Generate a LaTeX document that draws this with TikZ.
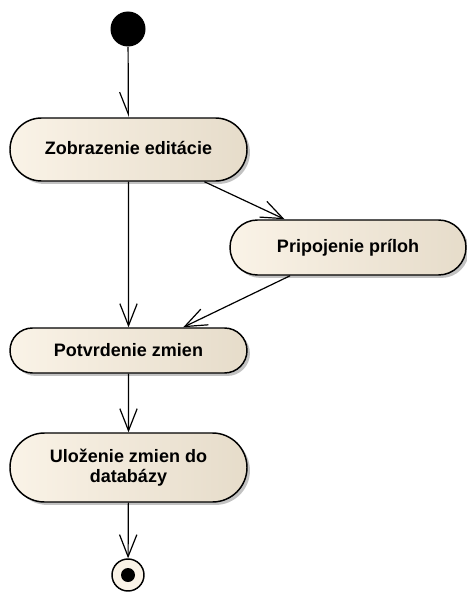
\documentclass[tikz,border=0pt]{standalone}
\usepackage{fontspec}
\setmainfont{Liberation Sans}
\usetikzlibrary{shapes.misc,arrows.meta,shadows}
\definecolor{actleft}{RGB}{250,243,231}
\definecolor{actright}{RGB}{230,220,202}
\definecolor{actborder}{RGB}{0,0,0}
\begin{document}
\begin{tikzpicture}[x=0.75pt,y=-0.75pt,
  activity/.style={rounded rectangle, draw=actborder, line width=1.1pt,
    left color=actleft, right color=actright,
    minimum width=237*0.75pt, align=center, inner sep=0pt,
    font=\fontsize{13.5}{15}\selectfont\bfseries,
    drop shadow={shadow xshift=2.2pt, shadow yshift=-2.2pt, opacity=0.4, fill=black!60}},
  flow/.style={line width=0.9pt, -{Straight Barb[length=16.5pt, width=13pt, line width=0.9pt]}},
  halfflow/.style={line width=0.9pt, -{Straight Barb[harpoon, swap, length=16.5pt, width=13pt, line width=0.9pt]}}
]
\useasboundingbox (0,0) rectangle (467,592);

% initial and final states
\node[circle, fill=black, minimum size=35*0.75pt, inner sep=0pt] (start) at (128,29) {};
\node[circle, draw, line width=1.1pt, fill=actleft, minimum size=32*0.75pt, inner sep=0pt] (final) at (128,575) {};
\node[circle, fill=black, minimum size=14*0.75pt, inner sep=0pt] (finaldot) at (final.center) {};

% activities
\node[activity, minimum height=63*0.75pt] (zobraz) at (128.5,149.5) {\raisebox{3pt}{Zobrazenie editácie}};
\node[activity, minimum height=55*0.75pt, minimum width=236*0.75pt] (prilohy) at (348,247.5) {Pripojenie príloh};
\node[activity, minimum height=45*0.75pt] (potvrd) at (128.5,350.5) {Potvrdenie zmien};
\node[activity, minimum height=69*0.75pt] (ulozenie) at (128.5,467.5) {Uloženie zmien do\\databázy};

% control flows
\draw[halfflow] (start) -- (zobraz);
\draw[flow] (zobraz) -- (potvrd);
\draw[flow] (zobraz.-23) -- (prilohy.156);
\draw[flow] (prilohy.206) -- (potvrd.23);
\draw[flow] (potvrd) -- (ulozenie);
\draw[flow] (ulozenie) -- (final);
\end{tikzpicture}
\end{document}
